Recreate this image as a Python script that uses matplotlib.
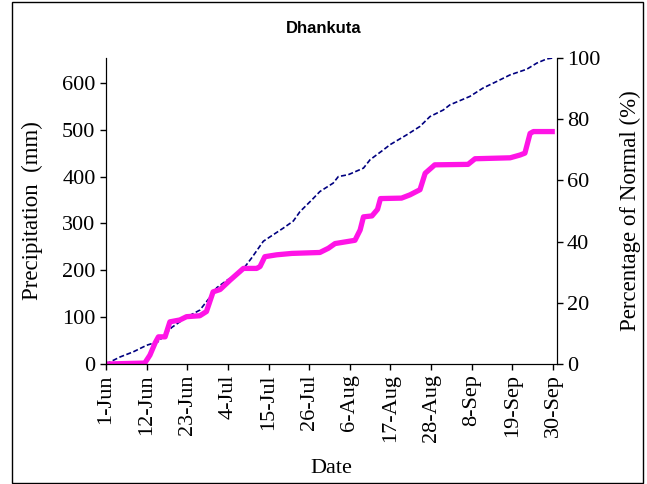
import numpy as np
import matplotlib.pyplot as plt
from matplotlib.patches import Rectangle

# days since 1-Jun and cumulative precipitation (mm)
normal_day = [0, 3.8, 7.4, 11, 14.2, 17.8, 21.8, 25.4, 28.2, 30, 33, 36.3, 39.4, 42.6,
              48, 50.7, 52.5, 55.7, 57.9, 61.5, 62.9, 65.6, 69.7, 71.5, 75.1, 76.9,
              81.4, 85, 87.7, 91.3, 93.1, 98.5, 102.1, 105.8, 109.4, 113.9, 116.6,
              119.3, 121]
normal_mm = [0, 15, 26, 40, 48, 78, 100, 115, 143, 163, 180, 194, 226, 262,
             290, 305, 325, 350, 368, 386, 400, 404, 418, 436, 457, 468,
             489, 507, 528, 542, 553, 571, 589, 603, 617, 629, 642,
             651, 653]

actual_day = [0, 10.5, 11.9, 13.3, 14.2, 16, 17.3, 20, 21.8, 25.4, 27.2, 29, 30.9,
              33.6, 37.2, 40.8, 41.7, 43, 46.2, 50.3, 57.9, 60.2, 62, 67.4, 68.8,
              69.7, 72, 73.5, 74.3, 80, 82.3, 85, 86.4, 89, 98, 99.9, 109.4, 112.1,
              113.4, 114.8, 115.7, 121.5]
actual_mm = [0, 2, 19, 45, 58, 58, 90, 94, 101, 103, 112, 154, 159,
             179, 204, 204, 208, 229, 233, 236, 238, 247, 257, 264, 286,
             314, 316, 330, 353, 354, 361, 372, 407, 425, 426, 438, 440, 446,
             450, 492, 496, 496]

tick_days = [0, 11, 22, 33, 44, 55, 66, 77, 88, 99, 110, 121]
tick_labels = ['1-Jun', '12-Jun', '23-Jun', '4-Jul', '15-Jul', '26-Jul',
               '6-Aug', '17-Aug', '28-Aug', '8-Sep', '19-Sep', '30-Sep']

plt.rcParams['font.family'] = 'Liberation Serif'
fig = plt.figure(figsize=(6.47, 4.84), dpi=100)
ax = fig.add_axes([0.1638, 0.2479, 0.6966, 0.6323])

ax.plot(normal_day, normal_mm, color='#000080', linewidth=1.2, linestyle=(0, (3, 1.5)))
ax.plot(actual_day, actual_mm, color='#ff14e6', linewidth=3.8, solid_capstyle='butt')

ax.set_xlim(0, 122)
ax.set_ylim(0, 653)
ax.set_yticks([0, 100, 200, 300, 400, 500, 600])
ax.set_xticks(tick_days)
ax.set_xticklabels(tick_labels, rotation=90)
ax.tick_params(labelsize=16, direction='out', length=4, width=1)
ax.spines['top'].set_visible(False)
ax.set_ylabel('Precipitation  (mm)', fontsize=16.5)
ax.yaxis.set_label_coords(-0.164, 0.5)
ax.yaxis.label.set_va('center')
ax.set_xlabel('Date', fontsize=16)
ax.xaxis.set_label_coords(0.5, -0.34)
ax.xaxis.label.set_va('center')

ax2 = ax.twinx()
ax2.set_ylim(0, 100)
ax2.set_yticks([0, 20, 40, 60, 80, 100])
ax2.tick_params(labelsize=16, direction='out', length=4, width=1)
ax2.spines['top'].set_visible(False)
ax2.set_ylabel('Percentage of Normal (%)', fontsize=16.5)
ax2.yaxis.set_label_coords(1.163, 0.5)
ax2.yaxis.label.set_va('center')

fig.text(0.5, 0.942, 'Dhankuta', fontsize=12, fontweight='bold',
         family='Liberation Sans', ha='center', va='center')

fig.patches.append(Rectangle((12 / 647, 0.002), 631 / 647, 0.994, transform=fig.transFigure,
                             fill=False, edgecolor='black', linewidth=1))

fig.savefig('out.png', dpi=100)
